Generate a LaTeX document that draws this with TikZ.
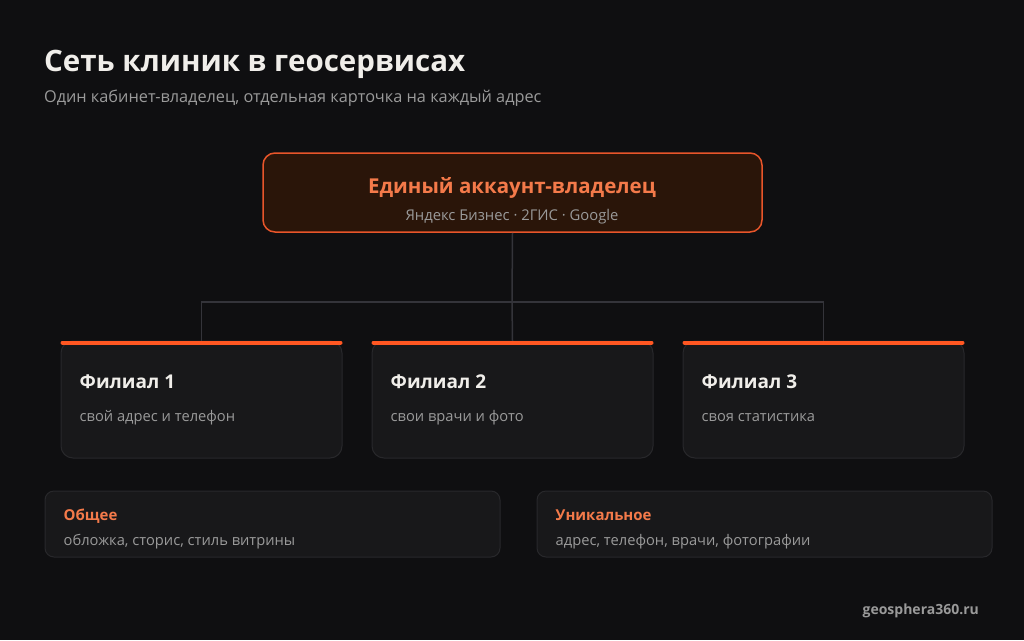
\documentclass[tikz,border=0pt]{standalone}
\usepackage{fontspec}
\setmainfont{Open Sans}
\definecolor{bg}{HTML}{0F0F11}
\definecolor{topfill}{HTML}{2A1509}
\definecolor{accent}{HTML}{E8552A}
\definecolor{accenttxt}{HTML}{F47A4A}
\definecolor{bar}{HTML}{FF5722}
\definecolor{cardfill}{HTML}{18181A}
\definecolor{cardline}{HTML}{28282B}
\definecolor{conn}{HTML}{34343A}
\definecolor{txtw}{HTML}{F0EEEA}
\definecolor{txtg}{HTML}{9A9A9A}
\tikzset{
  cardbox/.style={draw=cardline, line width=1pt, fill=cardfill, rounded corners=12pt},
  infobox/.style={draw=cardline, line width=1pt, fill=cardfill, rounded corners=9pt},
  topbar/.style={draw=bar, line width=4pt, line cap=round},
  link/.style={draw=conn, line width=1.5pt},
  cardtitle/.style={anchor=base west, inner sep=0, text=txtw, font=\fontsize{19}{22}\selectfont\bfseries},
  carddesc/.style={anchor=base west, inner sep=0, text=txtg, font=\fontsize{14.7}{17}\selectfont},
  infotitle/.style={anchor=base west, inner sep=0, text=accenttxt, font=\fontsize{15}{17}\selectfont\bfseries},
}
\begin{document}
\begin{tikzpicture}[x=1pt,y=-1pt]
\useasboundingbox[fill=bg] (0,0) rectangle (1024,640);
% title
\node[anchor=base west, inner sep=0, text=txtw, font=\fontsize{29.5}{34}\selectfont\bfseries] (title) at (44,71) {Сеть клиник в геосервисах};
\node[anchor=base west, inner sep=0, text=txtg, font=\fontsize{16.3}{19}\selectfont] (sub) at (44,102) {Один кабинет-владелец, отдельная карточка на каждый адрес};
% top box
\node[draw=accent, line width=1.5pt, fill=topfill, rounded corners=12pt, minimum width=499pt, minimum height=79pt, inner sep=0] (top) at (512.5,192.5) {};
\node[anchor=base, inner sep=0, text=accenttxt, font=\fontsize{20.5}{24}\selectfont\bfseries] (toptitle) at (512,193) {Единый аккаунт-владелец};
\node[anchor=base, inner sep=0, text=txtg, font=\fontsize{14.8}{17}\selectfont] (topsub) at (512,220) {Яндекс Бизнес · 2ГИС · Google};
% cards
\foreach \i/\x/\d in {1/201.5/свой адрес и телефон, 2/512.5/свои врачи и фото, 3/823.5/своя статистика}{
  \node[cardbox, minimum width=281pt, minimum height=117pt, inner sep=0] (c\i) at (\x,399.5) {};
  \coordinate (c\i t) at (\x,341);
  \node[cardtitle] (c\i title) at ([xshift=19pt,yshift=-48pt]c\i.north west) {Филиал \i};
  \node[carddesc] (c\i desc) at ([xshift=19pt,yshift=-81pt]c\i.north west) {\d};
}
% connectors
\coordinate (j) at (512,302);
\draw[link] (top.south) -- (j);
\draw[link] (c1t) |- (j) -| (c3t);
\draw[link] (j) -- (c2t);
% bars
\foreach \i in {1,2,3}{
  \draw[topbar] ([xshift=2pt,yshift=-2pt]c\i.north west) -- ([xshift=-2pt,yshift=-2pt]c\i.north east);
}
% info boxes
\node[infobox, minimum width=455pt, minimum height=66pt, inner sep=0] (common) at (272.5,524) {};
\node[infotitle] (commont) at ([xshift=19pt,yshift=-30pt]common.north west) {Общее};
\node[carddesc] (commond) at ([xshift=19pt,yshift=-55pt]common.north west) {обложка, сторис, стиль витрины};
\node[infobox, minimum width=455pt, minimum height=66pt, inner sep=0] (uniq) at (764.5,524) {};
\node[infotitle] (uniqt) at ([xshift=19pt,yshift=-30pt]uniq.north west) {Уникальное};
\node[carddesc] (uniqd) at ([xshift=19pt,yshift=-55pt]uniq.north west) {адрес, телефон, врачи, фотографии};
% footer
\node[anchor=base east, inner sep=0, text=txtg, font=\fontsize{14}{16}\selectfont\bfseries] (foot) at (979,614) {geosphera360.ru};
\end{tikzpicture}
\end{document}
